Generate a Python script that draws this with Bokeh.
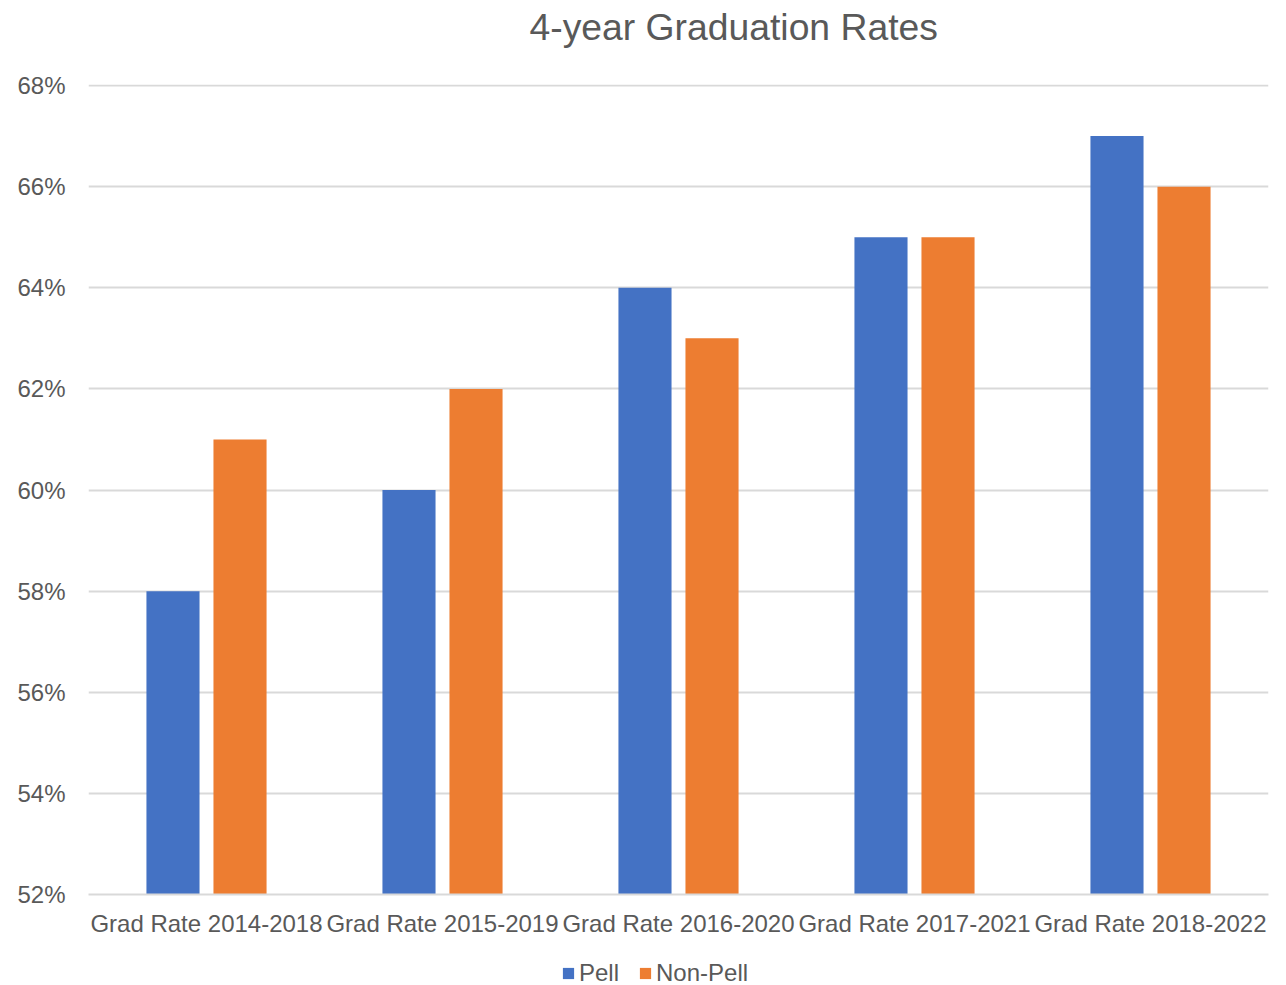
from bokeh.plotting import figure
from bokeh.layouts import column
from bokeh.models import ColumnDataSource, FactorRange, NumeralTickFormatter, Legend, LegendItem, FixedTicker, Title
from bokeh.transform import dodge
from bokeh.embed import file_html
from bokeh.resources import INLINE

categories = ["Grad Rate 2014-2018", "Grad Rate 2015-2019", "Grad Rate 2016-2020",
              "Grad Rate 2017-2021", "Grad Rate 2018-2022"]
pell = [0.58, 0.60, 0.64, 0.65, 0.67]
non_pell = [0.61, 0.62, 0.63, 0.65, 0.66]
y_ticks = [0.52, 0.54, 0.56, 0.58, 0.60, 0.62, 0.64, 0.66, 0.68]
series = ["Pell", "Non-Pell"]
fields = ["pell", "non_pell"]
colors = ["#4472C4", "#ED7D31"]
title_text = "4-year Graduation Rates"

FONT = "Liberation Sans"
GRAY = "#595959"

src = ColumnDataSource(dict(cat=categories, pell=pell, non_pell=non_pell))

p = figure(x_range=FactorRange(factors=categories, range_padding=0),
           y_range=(0.52, 0.6802), frame_width=1180, frame_height=810, title=None,
           output_backend="svg", toolbar_location=None,
           min_border_left=88, min_border_right=18, min_border_top=84, min_border_bottom=51)
p.outline_line_color = None

p.vbar(x=dodge("cat", -0.142, range=p.x_range), top="pell", bottom=0.52, width=0.225,
       source=src, fill_color=colors[0], line_color=None)
p.vbar(x=dodge("cat", 0.142, range=p.x_range), top="non_pell", bottom=0.52, width=0.225,
       source=src, fill_color=colors[1], line_color=None)

# spacer (closest to frame) then title
p.add_layout(Title(text=" ", text_font_size="1px", standoff=31), "above")
p.add_layout(Title(text=title_text, text_font=FONT, text_font_size="37.3px", text_color=GRAY,
                   text_font_style="normal", align="left", offset=441, standoff=6), "above")

p.yaxis.ticker = FixedTicker(ticks=y_ticks)
p.yaxis.formatter = NumeralTickFormatter(format="0%")
p.yaxis.axis_line_color = None
p.yaxis.major_tick_line_color = None
p.yaxis.minor_tick_line_color = None
p.yaxis.major_label_text_font = FONT
p.yaxis.major_label_text_font_size = "24px"
p.yaxis.major_label_text_color = GRAY
p.yaxis.major_label_standoff = 17

p.xaxis.axis_line_color = "#d9d9d9"
p.xaxis.axis_line_width = 2
p.xaxis.major_tick_line_color = None
p.xaxis.minor_tick_line_color = None
p.xaxis.major_label_text_font = FONT
p.xaxis.major_label_text_font_size = "24px"
p.xaxis.major_label_text_color = GRAY
p.xaxis.major_label_standoff = 9

p.xgrid.grid_line_color = None
p.ygrid.grid_line_color = "#d9d9d9"
p.ygrid.grid_line_width = 2

# legend strip (its frame is aligned with the main frame by the column layout)
lg = figure(width=1286, height=40, x_range=FactorRange(factors=categories), y_range=(0.52, 0.68),
            output_backend="svg", toolbar_location=None, x_axis_type=None, y_axis_type=None,
            min_border=0, min_border_left=0, min_border_right=0, min_border_top=0, min_border_bottom=0)
lg.outline_line_color = None
lg.xgrid.grid_line_color = None
lg.ygrid.grid_line_color = None
items = []
for name, f, c in zip(series, fields, colors):
    r = lg.vbar(x="cat", top=f, bottom=0.52, width=0.2, source=src,
                fill_color=c, line_color=None, visible=False)
    items.append(LegendItem(label=name, renderers=[r]))
legend = Legend(items=items, orientation="horizontal", location=(473, -2),
                label_text_font=FONT, label_text_font_size="24px", label_text_color=GRAY,
                glyph_width=14, glyph_height=14, label_standoff=4, spacing=19,
                inactive_fill_alpha=0,
                border_line_color=None, background_fill_alpha=0, margin=0, padding=0)
lg.add_layout(legend)

layout = column(p, lg, spacing=0)
open("out.html", "w").write(file_html(layout, INLINE))
